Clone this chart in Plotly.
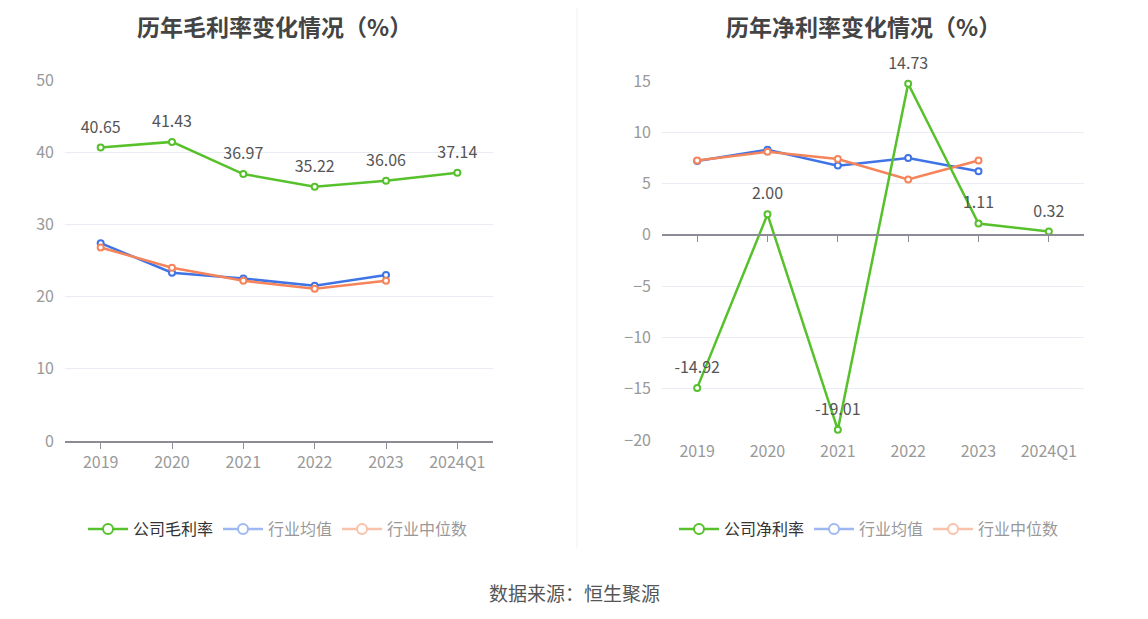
import plotly.graph_objects as go

# categories
years = ['2019', '2020', '2021', '2022', '2023', '2024Q1']
years_ind = years[:5]

# gross margin (%)
gross_company = [40.65, 41.43, 36.97, 35.22, 36.06, 37.14]
gross_ind_mean = [27.4, 23.3, 22.5, 21.5, 23.0]
gross_ind_median = [26.8, 24.0, 22.2, 21.1, 22.2]

# net margin (%)
net_company = [-14.92, 2.00, -19.01, 14.73, 1.11, 0.32]
net_ind_mean = [7.2, 8.3, 6.75, 7.5, 6.2]
net_ind_median = [7.25, 8.1, 7.4, 5.4, 7.25]

GREEN = '#57c12c'
BLUE = '#3f74e6'
ORANGE = '#f6845a'
FONT = 'Noto Sans CJK SC'

W, H = 1148, 619
OFF = 8  # page body margin


def px_x(p):
    return (p - OFF) / W


def px_y(p):
    return 1 - (p - OFF) / H


fig = go.Figure()


def add_series(x, y, name, color, xa, ya, legend, labels=False):
    fig.add_trace(go.Scatter(
        x=x, y=y, name=name, mode='lines+markers',
        line=dict(color=color, width=2.5),
        marker=dict(symbol='circle', size=6, color='white',
                    line=dict(color=color, width=2)),
        cliponaxis=False,
        xaxis=xa, yaxis=ya, showlegend=False, hoverinfo='x+y'))
    if labels:
        fig.add_trace(go.Scatter(
            x=x, y=y, mode='markers+text',
            marker=dict(size=16, color='rgba(0,0,0,0)'),
            text=[f'{v:.2f}' for v in y], textposition='top center',
            textfont=dict(size=16, color='#555', family=FONT),
            cliponaxis=False, xaxis=xa, yaxis=ya,
            showlegend=False, hoverinfo='skip'))
    # legend entry (faded entries like the reference)
    fig.add_trace(go.Scatter(
        x=x if not labels else [None], y=y if not labels else [None],
        name=name, mode='lines+markers',
        line=dict(color=color, width=2.5),
        marker=dict(symbol='circle', size=10, color='white',
                    line=dict(color=color, width=2)),
        xaxis=xa, yaxis=ya, legend=legend,
        visible=True if labels else 'legendonly'))


add_series(years, gross_company, '公司毛利率', GREEN, 'x', 'y', 'legend', labels=True)
add_series(years_ind, gross_ind_mean, '行业均值', BLUE, 'x', 'y', 'legend')
add_series(years_ind, gross_ind_median, '行业中位数', ORANGE, 'x', 'y', 'legend')

add_series(years, net_company, '公司净利率', GREEN, 'x3', 'y2', 'legend2', labels=True)
add_series(years_ind, net_ind_mean, '行业均值', BLUE, 'x2', 'y2', 'legend2')
add_series(years_ind, net_ind_median, '行业中位数', ORANGE, 'x2', 'y2', 'legend2')

y_dom = [px_y(441), px_y(80)]
y2_dom = [px_y(440), px_y(81)]
y2_range = [-20, 15]
zero_pos = y2_dom[0] + (0 - y2_range[0]) / (y2_range[1] - y2_range[0]) * (y2_dom[1] - y2_dom[0])

tick_font = dict(size=16, color='#999', family=FONT)
grid = '#e9ecf3'

cat_axis = dict(type='category', categoryorder='array', categoryarray=years,
                range=[-0.5, 5.5], showgrid=False, zeroline=False,
                tickfont=tick_font, fixedrange=True, automargin=False)

fig.update_layout(
    width=W, height=H,
    margin=dict(l=0, r=0, t=0, b=0, autoexpand=False),
    paper_bgcolor='white', plot_bgcolor='white',
    font=dict(family=FONT, color='#333'),
    xaxis=dict(cat_axis, domain=[px_x(65), px_x(493)], anchor='y',
               showline=True, linecolor='#8c8c96', linewidth=1.5,
               ticks='outside', ticklen=6, tickcolor='#8c8c96'),
    yaxis=dict(domain=y_dom, range=[0, 50], dtick=10, showgrid=True,
               gridcolor=grid, gridwidth=1, zeroline=False, showline=False,
               tickfont=tick_font, ticklabelstandoff=10, anchor='x',
               automargin=False),
    xaxis2=dict(cat_axis, domain=[px_x(662), px_x(1084)], anchor='y2',
                showline=False, ticks=''),
    xaxis3=dict(cat_axis, overlaying='x2', anchor='free', position=zero_pos,
                showline=True, linecolor='#8c8c96', linewidth=1.5,
                ticks='outside', ticklen=6, tickcolor='#8c8c96',
                showticklabels=False),
    yaxis2=dict(domain=y2_dom, range=y2_range, dtick=5, showgrid=True,
                gridcolor=grid, gridwidth=1, zeroline=False, showline=False,
                tickfont=tick_font, ticklabelstandoff=10, anchor='x2',
                automargin=False),
    legend=dict(orientation='h', x=px_x(83), y=px_y(529), xanchor='left',
                yanchor='middle', font=dict(size=16, color='#333', family=FONT),
                itemwidth=40),
    legend2=dict(orientation='h', x=px_x(674), y=px_y(529), xanchor='left',
                 yanchor='middle', font=dict(size=16, color='#333', family=FONT),
                 itemwidth=40),
    annotations=[
        dict(text='<b>历年毛利率变化情况（%）</b>', x=px_x(274), y=1,
             xref='paper', yref='paper', showarrow=False,
             xanchor='center', yanchor='top', borderpad=0,
             font=dict(size=23, color='#444', family=FONT)),
        dict(text='<b>历年净利率变化情况（%）</b>', x=px_x(863), y=1,
             xref='paper', yref='paper', showarrow=False,
             xanchor='center', yanchor='top', borderpad=0,
             font=dict(size=23, color='#444', family=FONT)),
        dict(text='数据来源：恒生聚源', x=px_x(574), y=px_y(592),
             xref='paper', yref='paper', showarrow=False,
             xanchor='center', yanchor='middle',
             font=dict(size=19, color='#555', family=FONT)),
    ],
    shapes=[
        dict(type='line', xref='paper', yref='paper', x0=px_x(577), x1=px_x(577),
             y0=px_y(548), y1=1, line=dict(color='#f0f0f0', width=1)),
    ],
)

fig.write_html('out.html')
